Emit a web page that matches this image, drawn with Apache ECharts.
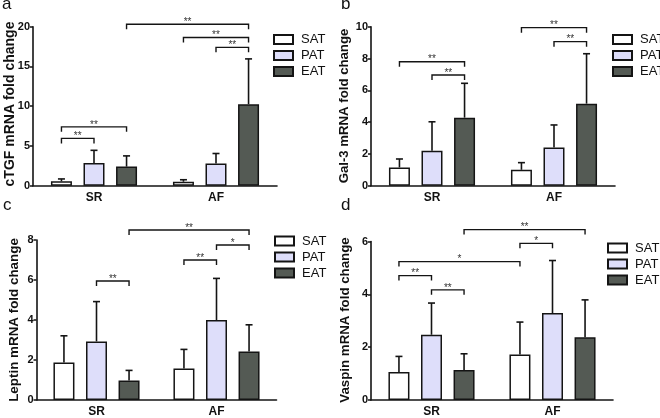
<!DOCTYPE html>
<html><head><meta charset="utf-8">
<script src="https://cdn.jsdelivr.net/npm/echarts@6/dist/echarts.min.js"></script>
<style>html,body{margin:0;padding:0;background:#fff}#c{width:660px;height:418px}</style>
</head><body><div id="c"></div>
<script>
// ---------- data ----------
const categories = ['SR', 'AF'];
const groups = ['SAT', 'PAT', 'EAT'];

// a: cTGF
const ctgfSAT = [0.55, 0.5],  ctgfSATsd = [0.3, 0.25];
const ctgfPAT = [2.85, 2.8],  ctgfPATsd = [1.6, 1.25];
const ctgfEAT = [2.4, 10.25], ctgfEATsd = [1.35, 5.7];
const ctgfTicks = [0, 5, 10, 15, 20];
// brackets: [cat1, bar1, cat2, bar2, y, label]
const ctgfSig = [[0,0,0,1,5.95,'**'],[0,0,0,2,7.4,'**'],[0,2,1,2,20.3,'**'],[1,0,1,2,18.65,'**'],[1,1,1,2,17.4,'**']];

// b: Gal-3
const galSAT = [1.15, 1.0],  galSATsd = [0.53, 0.45];
const galPAT = [2.2, 2.4],   galPATsd = [1.82, 1.42];
const galEAT = [4.28, 5.16], galEATsd = [2.16, 3.14];
const galTicks = [0, 2, 4, 6, 8, 10];
const galSig = [[0,0,0,2,7.8,'**'],[0,1,0,2,6.96,'**'],[1,0,1,2,9.94,'**'],[1,1,1,2,9.06,'**']];

// c: Leptin
const lepSAT = [1.88, 1.58], lepSATsd = [1.33, 0.95];
const lepPAT = [2.93, 4.0],  lepPATsd = [1.99, 2.08];
const lepEAT = [0.97, 2.43], lepEATsd = [0.51, 1.33];
const lepTicks = [0, 2, 4, 6, 8];
const lepSig = [[0,1,0,2,5.95,'**'],[1,0,1,1,7.0,'**'],[1,1,1,2,7.75,'*'],[0,2,1,2,8.5,'**']];

// d: Vaspin
const vasSAT = [1.06, 1.72], vasSATsd = [0.59, 1.23];
const vasPAT = [2.47, 3.29], vasPATsd = [1.2, 1.99];
const vasEAT = [1.14, 2.38], vasEATsd = [0.61, 1.41];
const vasTicks = [0, 2, 4, 6];
const vasSig = [[0,0,0,1,4.71,'**'],[0,1,0,2,4.17,'**'],[0,0,1,0,5.24,'*'],[1,0,1,1,5.93,'*'],[0,2,1,2,6.45,'**']];

// ---------- style / layout ----------
const FONT = '"Liberation Sans", Arial, sans-serif';
const BAR_W = 21, GAP = 0.55, SP = BAR_W * (1 + GAP), CAP = 7, TICK = 5;
const fills = ['#ffffff', '#dedefa', '#545a54'];
const INK = '#141414';

const panels = [
  {tag:'a', name:'cTGF mRNA fold change', nameSize:14, namePos:[10.5, 104], means:[ctgfSAT,ctgfPAT,ctgfEAT], sds:[ctgfSATsd,ctgfPATsd,ctgfEATsd], ticks:ctgfTicks, sig:ctgfSig,
   grid:{left:33, top:26.7, width:244, height:159}, legend:{left:268, top:28}, label:[2,-4]},
  {tag:'b', name:'Gal-3 mRNA fold change', nameSize:13.2, namePos:[344, 106], means:[galSAT,galPAT,galEAT], sds:[galSATsd,galPATsd,galEATsd], ticks:galTicks, sig:galSig,
   grid:{left:371, top:26.7, width:244, height:159}, legend:{left:607, top:28}, label:[341,-4]},
  {tag:'c', name:'Leptin mRNA fold change', nameSize:13.4, namePos:[14.2, 320], means:[lepSAT,lepPAT,lepEAT], sds:[lepSATsd,lepPATsd,lepEATsd], ticks:lepTicks, sig:lepSig,
   grid:{left:36.5, top:240, width:240, height:160}, legend:{left:269, top:229.5}, label:[3,197]},
  {tag:'d', name:'Vaspin mRNA fold change', nameSize:13.3, namePos:[345.8, 320], means:[vasSAT,vasPAT,vasEAT], sds:[vasSATsd,vasPATsd,vasEATsd], ticks:vasTicks, sig:vasSig,
   grid:{left:371, top:241.5, width:242, height:159}, legend:{left:602, top:236.5}, label:[341,197]}
];

function errRender(means, sds) {
  return function (params, api) {
    const s = Math.floor(params.dataIndex / 2), c = params.dataIndex % 2;
    const m = means[s][c], top = m + sds[s][c];
    const p0 = api.coord([c, m]), p1 = api.coord([c, top]);
    const x = p0[0] + (s - 1) * SP;
    return {type:'group', children:[
      {type:'line', shape:{x1:x, y1:p0[1], x2:x, y2:p1[1]}, style:{stroke:INK, lineWidth:1.6}},
      {type:'line', shape:{x1:x - CAP/2, y1:p1[1], x2:x + CAP/2, y2:p1[1]}, style:{stroke:INK, lineWidth:1.6}}
    ]};
  };
}
function sigRender(list) {
  return function (params, api) {
    const b = list[params.dataIndex];
    const p1 = api.coord([b[0], b[4]]), p2 = api.coord([b[2], b[4]]);
    const x1 = p1[0] + (b[1] - 1) * SP, x2 = p2[0] + (b[3] - 1) * SP, y = p1[1];
    return {type:'group', children:[
      {type:'polyline', shape:{points:[[x1, y + TICK],[x1, y],[x2, y],[x2, y + TICK]]}, style:{stroke:INK, lineWidth:1.4, fill:null}},
      {type:'text', style:{text:b[5], x:(x1 + x2)/2, y:y + 3, align:'center', verticalAlign:'bottom', fontSize:10, fontFamily:FONT, fill:'#333'}}
    ]};
  };
}

const option = {
  animation:false, backgroundColor:'#fff',
  grid:[], xAxis:[], yAxis:[], legend:[], series:[], graphic:[]
};
panels.forEach((p, i) => {
  const ticks = p.ticks;
  option.grid.push(Object.assign({containLabel:false}, p.grid));
  option.xAxis.push({type:'category', gridIndex:i, data:categories,
    axisLine:{lineStyle:{color:INK, width:1.6}}, axisTick:{alignWithLabel:true, length:4, lineStyle:{color:INK, width:1.5}},
    axisLabel:{color:'#111', fontFamily:FONT, fontWeight:'bold', fontSize:12, margin:6}});
  option.yAxis.push({type:'value', gridIndex:i, min:ticks[0], max:ticks[ticks.length-1], interval:ticks[1]-ticks[0],
    splitLine:{show:false}, axisLine:{show:true, lineStyle:{color:INK, width:1.6}},
    axisTick:{show:true, length:3, lineStyle:{color:INK, width:1.5}},
    axisLabel:{color:'#111', fontFamily:FONT, fontWeight:'bold', fontSize:11, margin:3}});
  option.legend.push({orient:'vertical', left:p.legend.left, top:p.legend.top, data:groups, icon:'rect',
    itemWidth:19, itemHeight:9, itemGap:3, selectedMode:false,
    textStyle:{fontFamily:FONT, fontSize:13, color:'#111', padding:[0,0,0,3]}});
  groups.forEach((g, s) => {
    option.series.push({type:'bar', name:g, xAxisIndex:i, yAxisIndex:i, data:p.means[s],
      barWidth:BAR_W, barGap:(GAP*100)+'%',
      itemStyle:{color:fills[s], borderColor:INK, borderWidth:1.5}, z:2});
  });
  const errData = [];
  groups.forEach((g, s) => categories.forEach((c, k) => errData.push([k, p.means[s][k] + p.sds[s][k]])));
  option.series.push({type:'custom', name:'err'+i, xAxisIndex:i, yAxisIndex:i, data:errData, renderItem:errRender(p.means, p.sds), z:3, clip:false});
  option.series.push({type:'custom', name:'sig'+i, xAxisIndex:i, yAxisIndex:i, data:p.sig.map(b => [b[0], b[4]]), renderItem:sigRender(p.sig), z:3, clip:false});
  option.graphic.push({type:'text', left:p.label[0], top:p.label[1], style:{text:p.tag, fontSize:17, fontFamily:FONT, fill:'#111'}});
  option.graphic.push({type:'text', x:p.namePos[0], y:p.namePos[1], rotation:Math.PI/2,
    style:{text:p.name, x:0, y:0, align:'center', verticalAlign:'middle', fontSize:p.nameSize, fontWeight:'bold', fontFamily:FONT, fill:'#111'}});
});

const chart = echarts.init(document.getElementById('c'), null, {renderer:'canvas'});
chart.setOption(option);
</script></body></html>
